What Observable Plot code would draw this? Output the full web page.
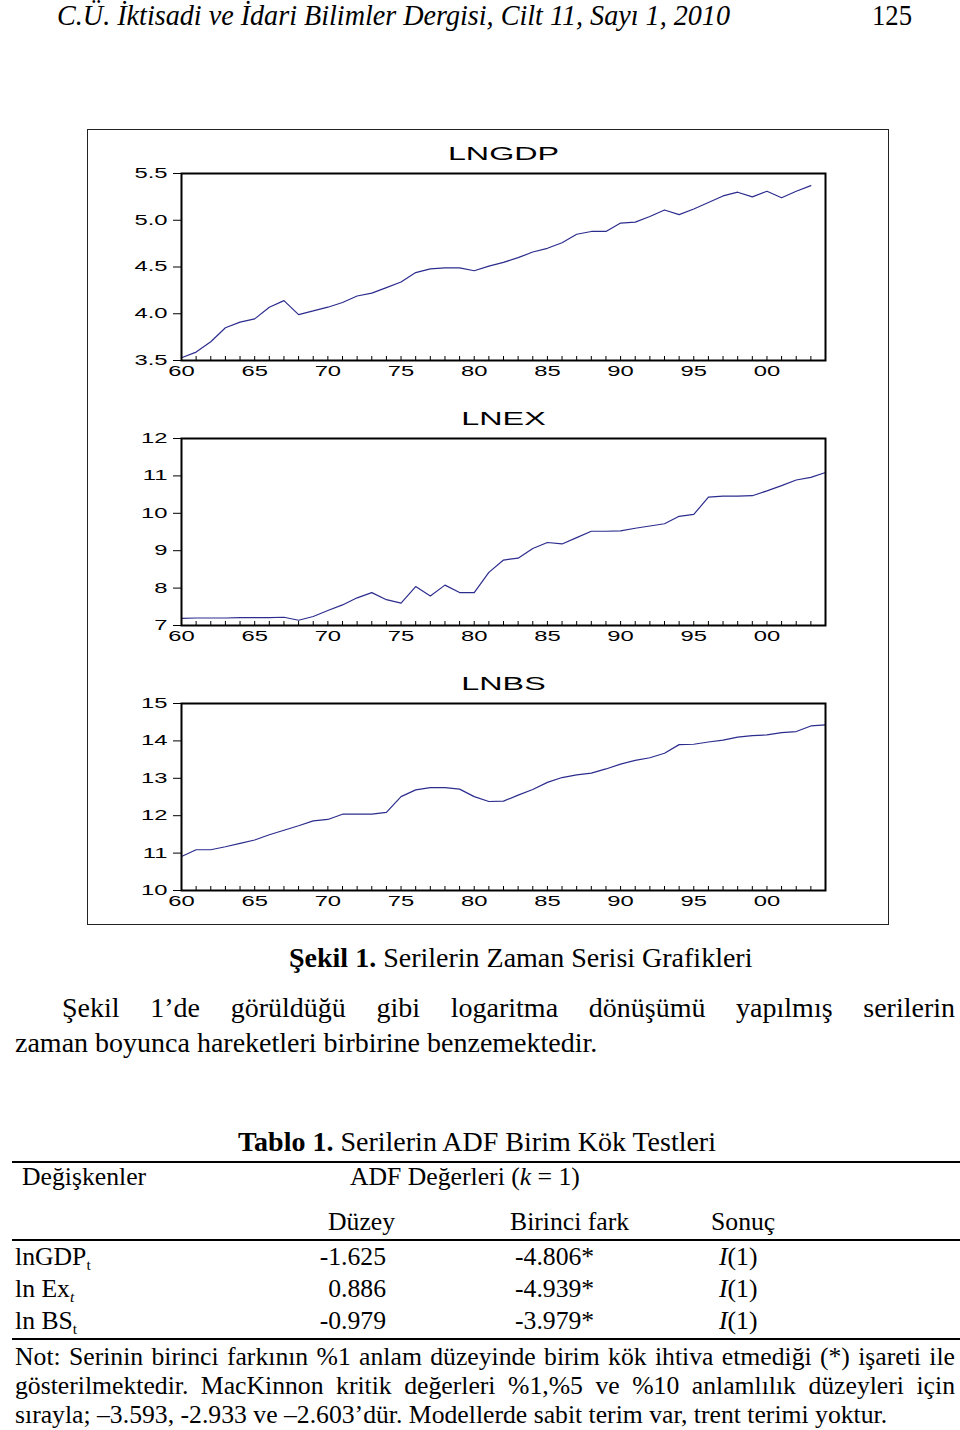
<!DOCTYPE html>
<html><head><meta charset="utf-8">
<script src="https://cdn.jsdelivr.net/npm/d3@7"></script>
<script src="https://cdn.jsdelivr.net/npm/@observablehq/plot@0.6"></script>
<style>
html,body{margin:0;padding:0;background:#fff;}
body{width:960px;height:1430px;position:relative;overflow:hidden;font-family:"Liberation Serif","Times New Roman",serif;color:#000;}
.abs{position:absolute;white-space:nowrap;line-height:1;}
.just{text-align:justify;text-align-last:justify;}
#box{position:absolute;left:87px;top:129px;width:800px;height:794px;border:1.5px solid #222;}
.panel{position:absolute;left:88px;}
.rule{position:absolute;left:12px;width:948px;background:#000;}
sub{font-size:0.6em;vertical-align:-0.3em;line-height:0;}
</style></head><body>

<div id="header" class="abs" style="left:57px;top:1px;font-style:italic;font-size:29px;">C.Ü. İktisadi ve İdari Bilimler Dergisi, Cilt 11, Sayı 1, 2010</div>
<div id="pageno" class="abs" style="left:872px;top:1px;font-size:29px;">125</div>

<div id="charts"></div>
<div id="box"></div>

<div class="abs" style="left:289px;top:944px;font-size:28px;"><b>Şekil 1.</b> Serilerin Zaman Serisi Grafikleri</div>
<div class="abs just" style="left:62px;top:994px;width:893px;font-size:28px;">Şekil 1’de görüldüğü gibi logaritma dönüşümü yapılmış serilerin</div>
<div class="abs" style="left:15px;top:1029px;font-size:28px;">zaman boyunca hareketleri birbirine benzemektedir.</div>

<div class="abs" style="left:238px;top:1128px;font-size:28px;"><b>Tablo 1.</b> Serilerin ADF Birim Kök Testleri</div>
<div class="rule" style="top:1161px;height:2px;"></div>
<div id="table"></div>
<div class="rule" style="top:1239px;height:1.5px;"></div>
<div class="rule" style="top:1338px;height:2px;"></div>

<div class="abs just" style="left:15px;top:1344px;width:940px;font-size:25.7px;">Not: Serinin birinci farkının %1 anlam düzeyinde birim kök ihtiva etmediği (*) işareti ile</div>
<div class="abs just" style="left:15px;top:1373px;width:940px;font-size:25.7px;">gösterilmektedir. MacKinnon kritik değerleri %1,%5 ve %10 anlamlılık düzeyleri için</div>
<div class="abs" style="left:15px;top:1402px;font-size:25.7px;">sırayla; –3.593, -2.933 ve –2.603’dür. Modellerde sabit terim var, trent terimi yoktur.</div>

<script>
// ---------- chart data ----------
const years = [1960,1961,1962,1963,1964,1965,1966,1967,1968,1969,
  1970,1971,1972,1973,1974,1975,1976,1977,1978,1979,
  1980,1981,1982,1983,1984,1985,1986,1987,1988,1989,
  1990,1991,1992,1993,1994,1995,1996,1997,1998,1999,
  2000,2001,2002,2003,2004];
const labelYears = [1960,1965,1970,1975,1980,1985,1990,1995,2000];

const lngdp = [3.53,3.59,3.70,3.85,3.91,3.945,4.07,4.14,3.99,4.03,
  4.07,4.12,4.19,4.22,4.28,4.34,4.44,4.48,4.49,4.49,
  4.46,4.51,4.55,4.60,4.66,4.70,4.76,4.85,4.88,4.88,
  4.97,4.98,5.04,5.11,5.06,5.12,5.19,5.26,5.30,5.25,
  5.31,5.24,5.31,5.37];
const lnex = [7.19,7.20,7.20,7.20,7.21,7.21,7.21,7.22,7.14,7.24,
  7.40,7.55,7.74,7.88,7.69,7.60,8.04,7.79,8.08,7.88,
  7.88,8.42,8.75,8.80,9.06,9.22,9.18,9.35,9.52,9.52,
  9.53,9.60,9.66,9.72,9.92,9.97,10.43,10.46,10.46,10.47,
  10.60,10.74,10.89,10.96,11.09];
const lnbs = [10.91,11.09,11.09,11.17,11.26,11.35,11.49,11.61,11.73,11.86,
  11.90,12.04,12.04,12.04,12.09,12.51,12.69,12.75,12.75,12.71,
  12.51,12.38,12.39,12.55,12.70,12.89,13.02,13.09,13.14,13.25,
  13.38,13.48,13.55,13.67,13.90,13.91,13.97,14.02,14.10,14.14,
  14.16,14.22,14.25,14.40,14.43];

const titles = ["LNGDP", "LNEX", "LNBS"];
const gdpTicks = [3.5, 4.0, 4.5, 5.0, 5.5];
const exTicks = [7, 8, 9, 10, 11, 12];
const bsTicks = [10, 11, 12, 13, 14, 15];

// ---------- table data ----------
const varNames = ["lnGDP", "ln Ex", "ln BS"];
const subItalic = [false, true, false];
const duzey = ["-1.625", "0.886", "-0.979"];
const fark = ["-4.806*", "-4.939*", "-3.979*"];
const sonuc = ["1", "1", "1"];

// ---------- charts ----------
const series = [
  {title: titles[0], values: lngdp, ticks: gdpTicks, fmt: d3.format(".1f"), top: 128},
  {title: titles[1], values: lnex, ticks: exTicks, fmt: d3.format("d"), top: 393},
  {title: titles[2], values: lnbs, ticks: bsTicks, fmt: d3.format("d"), top: 658}
];
const frameH = 187;
const lineColor = "#2c2c8e";
const charts = document.getElementById("charts");
for (const s of series) {
  const data = s.values.map((v, i) => ({year: years[i], value: v}));
  const plot = Plot.plot({
    width: 800, height: 265,
    marginLeft: 93, marginRight: 63, marginTop: 45, marginBottom: 33,
    style: {background: "transparent", fontFamily: "'Liberation Sans', Arial, sans-serif", fontSize: "14px", color: "#000"},
    x: {domain: [1960, 2004], label: null},
    y: {domain: [s.ticks[0], s.ticks[s.ticks.length - 1]], label: null},
    marks: [
      Plot.tickX(years, {x: d => d, insetTop: frameH - 4, stroke: "#000", strokeWidth: 1}),
      Plot.line(data, {x: "year", y: "value", stroke: lineColor, strokeWidth: 1.2}),
      Plot.frame({stroke: "#000", strokeWidth: 2}),
      Plot.axisX({ticks: labelYears, tickSize: 0, tickPadding: 6, label: null,
        tickFormat: d => String(d % 100).padStart(2, "0")}),
      Plot.axisY({ticks: s.ticks, tickSize: 8, tickPadding: 6, label: null, tickFormat: s.fmt}),
      Plot.text([s.title], {frameAnchor: "top", dy: -27, fontSize: 19, ariaLabel: "title"})
    ]
  });
  plot.classList.add("panel");
  plot.style.top = s.top + "px";
  plot.style.left = "88px";
  plot.style.position = "absolute";
  // EViews-style horizontally stretched lettering
  plot.querySelectorAll("text").forEach(t => {
    const g = t.closest("g[aria-label]");
    const lab = g ? g.getAttribute("aria-label") : "";
    const k = lab === "title" ? 1.75 : 1.7;
    const tr = t.getAttribute("transform") || "";
    t.setAttribute("transform", tr + ` scale(${k},1)`);
  });
  charts.appendChild(plot);
}

// ---------- table ----------
const table = document.getElementById("table");
function cell(html, left, yc, fs, extra) {
  const d = document.createElement("div");
  d.className = "abs";
  d.style.left = left + "px";
  d.style.top = (yc - fs / 2) + "px";
  d.style.fontSize = fs + "px";
  if (extra) Object.assign(d.style, extra);
  d.innerHTML = html;
  table.appendChild(d);
  return d;
}
const fsT = 25.7;
cell("Değişkenler", 22, 1177, fsT);
cell("ADF Değerleri (<i>k</i> = 1)", 350, 1177, fsT);
cell("Düzey", 328, 1222, fsT);
cell("Birinci fark", 510, 1222, fsT);
cell("Sonuç", 711, 1222, fsT);
const rowY = [1257, 1289, 1321];
varNames.forEach((n, i) => {
  const sub = subItalic[i] ? "<sub><i>t</i></sub>" : "<sub>t</sub>";
  cell(n + sub, 15, rowY[i], fsT);
  cell(duzey[i], 0, rowY[i], fsT, {width: "386px", textAlign: "right"});
  cell(fark[i], 515, rowY[i], fsT);
  cell("<i>I</i>(" + sonuc[i] + ")", 719, rowY[i], fsT);
});

// fit header to its printed width (condensed italic face)
function fitX(id, target) {
  const el = document.getElementById(id);
  const w = el.getBoundingClientRect().width;
  el.style.transformOrigin = "left top";
  el.style.transform = `scaleX(${target / w})`;
}
fitX("header", 673);
fitX("pageno", 40);
</script>
</body></html>
